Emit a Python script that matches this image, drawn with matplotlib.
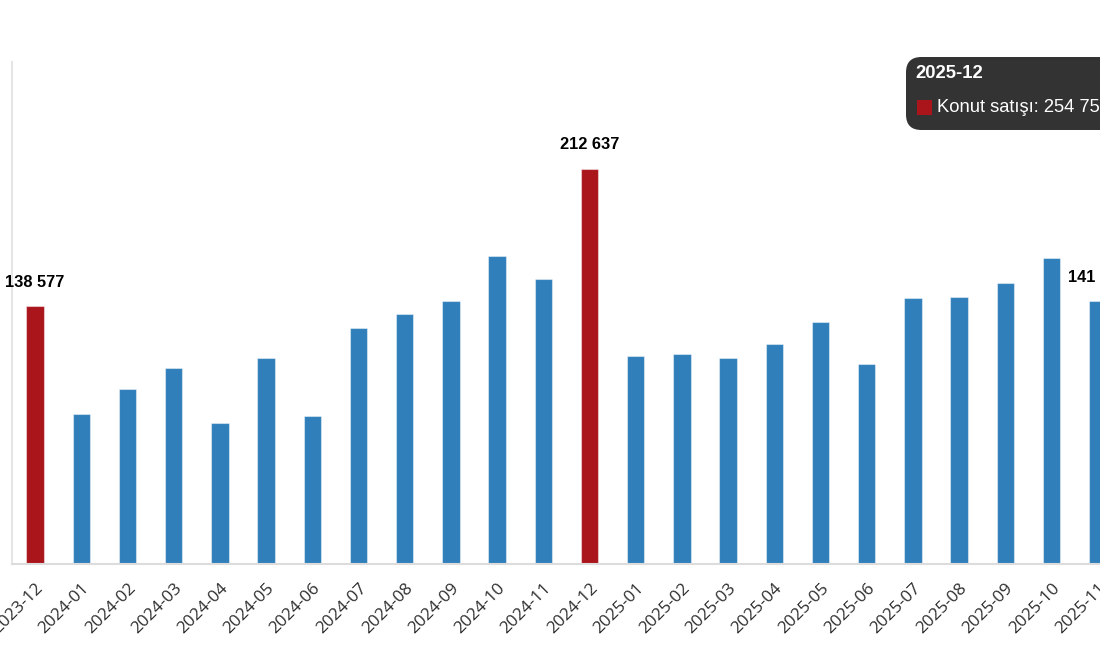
import matplotlib
matplotlib.use("Agg")
import matplotlib.pyplot as plt
from matplotlib.patches import FancyBboxPatch, Rectangle

# monthly house sales
months = ['2023-12', '2024-01', '2024-02', '2024-03', '2024-04', '2024-05',
          '2024-06', '2024-07', '2024-08', '2024-09', '2024-10', '2024-11',
          '2024-12', '2025-01', '2025-02', '2025-03', '2025-04', '2025-05',
          '2025-06', '2025-07', '2025-08', '2025-09', '2025-10', '2025-11',
          '2025-12']
sales = [138577, 80470, 94160, 105480, 75840, 110870,
         79400, 127200, 134210, 141220, 165470, 153080,
         212637, 112110, 113030, 111030, 118580, 130060,
         107800, 142840, 143540, 150920, 164400, 141220,
         254750]
labelled = ['2023-12', '2024-12', '2025-11', '2025-12']
tooltip_month = '2025-12'
series_name = 'Konut satışı'

BLUE = '#307fba'
RED = '#aa151c'


def fmt(v):
    return f'{v:,}'.replace(',', ' ')


fig = plt.figure(figsize=(11, 6.5), dpi=100)
ax = fig.add_axes([12 / 1100, 86 / 650, 1155 / 1100, 502 / 650])

x = list(range(len(months)))
colors = [RED if m.endswith('-12') else BLUE for m in months]
ax.bar(x, sales, width=0.38, color=colors, edgecolor=(1, 1, 1, 0.45),
       linewidth=0.8, zorder=2)

for i, (m, v) in enumerate(zip(months, sales)):
    if m in labelled:
        ax.annotate(fmt(v), (i, v), xytext=(0, 12), textcoords='offset points',
                    ha='center', va='bottom', fontsize=11.8, fontweight='bold',
                    family='Liberation Sans', color='black')

ax.set_xlim(-0.5, len(months) - 0.5)
ax.set_ylim(0, 270000)
ax.set_yticks([])
ax.set_xticks(x)
ax.set_xticklabels(months, rotation=45, ha='right', va='top',
                   rotation_mode='anchor', fontsize=12.3, color='#2e2e2e',
                   family='Open Sans')
ax.tick_params(axis='x', length=0, pad=12)

for s in ['top', 'right']:
    ax.spines[s].set_visible(False)
ax.spines['left'].set_color('#e6e6e6')
ax.spines['left'].set_linewidth(1.5)
ax.spines['bottom'].set_color('#dcdcdc')
ax.spines['bottom'].set_linewidth(1.5)

# tooltip box (cut by the right edge of the picture)
idx = months.index(tooltip_month)
box = FancyBboxPatch((906 / 1100, 1 - 130 / 650), 260 / 1100, 73 / 650,
                     boxstyle='round,pad=0,rounding_size=0.014',
                     transform=fig.transFigure, facecolor='#333333',
                     edgecolor='none', zorder=10, mutation_aspect=1100 / 650)
fig.add_artist(box)
fig.text(915 / 1100, 1 - 74 / 650, tooltip_month, color='white',
         fontsize=13.3, fontweight='bold', family='Liberation Sans',
         va='center', ha='left', zorder=11)
fig.add_artist(Rectangle((917 / 1100, 1 - 115 / 650), 15 / 1100, 15 / 650,
                         transform=fig.transFigure, facecolor=RED,
                         edgecolor='none', zorder=11))
fig.text(937 / 1100, 1 - 108 / 650, f'{series_name}: {fmt(sales[idx])}',
         color='white', fontsize=13.2, family='Liberation Sans',
         va='center', ha='left', zorder=11)

fig.savefig('out.png', dpi=100)
